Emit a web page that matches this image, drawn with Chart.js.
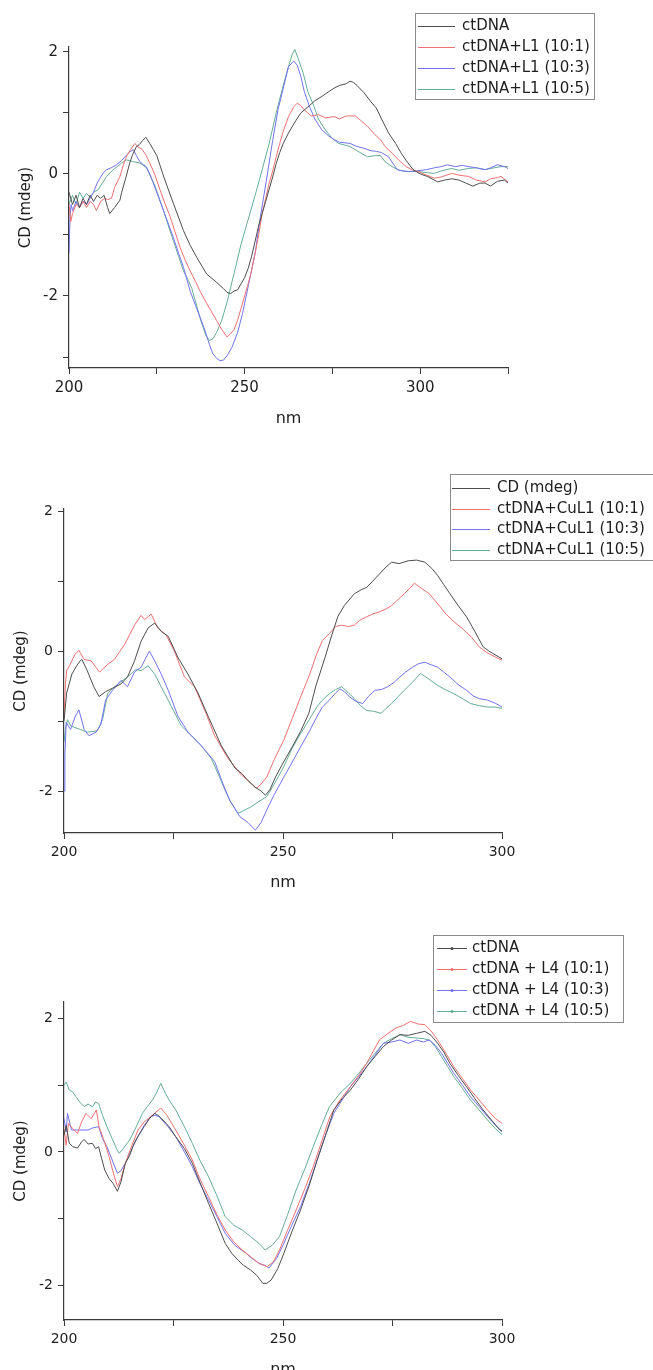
<!DOCTYPE html>
<html>
<head>
<meta charset="utf-8">
<script src="https://cdn.jsdelivr.net/npm/chart.js@4"></script>
<style>
html, body { margin: 0; padding: 0; background: #fff; }
body { width: 653px; height: 1370px; position: relative; overflow: hidden; }
canvas { position: absolute; left: 0; }
</style>
</head>
<body>
<canvas id="cdL1" width="653" height="432" style="top:0px"></canvas>
<canvas id="cdCuL1" width="653" height="462" style="top:440px"></canvas>
<canvas id="cdL4" width="653" height="480" style="top:910px"></canvas>
<script>
// -- Data: CD spectra, [nm, CD (mdeg)] --

// panel 1 : ctDNA + L1
const l1Labels = ['ctDNA', 'ctDNA+L1 (10:1)', 'ctDNA+L1 (10:3)', 'ctDNA+L1 (10:5)'];
const l1_ctDNA = [[200,-0.3],[201,-0.5],[202,-0.35],[203,-0.55],[204,-0.4],[205,-0.5],[206,-0.35],[207,-0.45],[208,-0.35],[209,-0.4],[210,-0.35],[211,-0.55],[211.6,-0.65],[213,-0.55],[214.5,-0.43],[215,-0.3],[216,-0.1],[217.3,0.18],[218,0.3],[219.2,0.45],[220,0.48],[221,0.55],[221.9,0.6],[223,0.5],[224,0.4],[225,0.3],[227,-0.05],[229.7,-0.48],[232.6,-0.93],[234.5,-1.17],[236.4,-1.37],[239.2,-1.64],[242.1,-1.78],[244,-1.88],[245,-1.94],[246,-1.96],[247,-1.92],[248,-1.9],[249,-1.8],[250,-1.7],[251,-1.55],[252,-1.35],[253,-1.1],[254,-0.85],[255,-0.65],[256,-0.45],[257,-0.25],[258,-0.05],[259,0.17],[260,0.35],[261,0.5],[262.5,0.67],[264,0.82],[266,1.0],[268.5,1.12],[270,1.2],[272,1.27],[274,1.35],[275.6,1.41],[277,1.45],[279,1.48],[280,1.52],[281,1.5],[282,1.45],[284,1.33],[286,1.18],[287.5,1.08],[289,0.9],[291,0.67],[293,0.5],[294.6,0.34],[296,0.22],[298,0.07],[300,0.0],[302,-0.04],[304,-0.1],[305,-0.13],[307,-0.1],[309,-0.08],[311,-0.1],[313,-0.15],[315,-0.2],[317,-0.15],[318.5,-0.15],[320,-0.2],[322,-0.12],[324,-0.1],[325,-0.15]];
const l1_r101 = [[200,-0.5],[200.5,-0.78],[201,-0.65],[202,-0.5],[203,-0.55],[204,-0.45],[205,-0.55],[206,-0.45],[207,-0.5],[207.8,-0.6],[209,-0.45],[210.2,-0.4],[211,-0.42],[212.1,-0.4],[213,-0.22],[214.5,-0.04],[215.5,0.15],[216.4,0.29],[217.5,0.4],[218.8,0.5],[219.7,0.44],[220.7,0.41],[222,0.3],[223,0.18],[224.5,-0.02],[225.9,-0.26],[227.3,-0.48],[228.8,-0.7],[230.2,-0.95],[231.6,-1.2],[233,-1.4],[234.5,-1.59],[236,-1.76],[237.3,-1.92],[239,-2.1],[241,-2.3],[242,-2.4],[243.5,-2.55],[245,-2.67],[246,-2.62],[247,-2.55],[248,-2.4],[249,-2.2],[250,-2.0],[251,-1.8],[251.8,-1.63],[253,-1.3],[254,-1.0],[255,-0.65],[256,-0.4],[257,-0.15],[258,0.05],[259,0.28],[260,0.5],[261,0.7],[262.5,0.94],[264,1.1],[265,1.16],[266,1.12],[267,1.05],[268,1.0],[269,0.95],[271,0.97],[273,0.92],[275.6,0.94],[277,0.9],[279,0.95],[281.5,0.95],[283,0.88],[285,0.78],[287,0.65],[288.7,0.56],[290,0.45],[292,0.34],[294,0.22],[296,0.12],[298,0.06],[299.4,0.04],[301,0.0],[304,-0.07],[306,-0.05],[309,0.01],[311,-0.02],[313.7,-0.04],[316,-0.1],[318.5,-0.13],[320,-0.08],[322,-0.06],[323,-0.04],[325,-0.13]];
const l1_r103 = [[200,-1.3],[200.3,-0.7],[200.6,-0.5],[201,-0.6],[202,-0.45],[203,-0.55],[204,-0.45],[205,-0.5],[206,-0.4],[207,-0.3],[208,-0.15],[208.8,-0.07],[209.8,0.02],[210.7,0.07],[212,0.1],[213.5,0.15],[215,0.22],[216.4,0.31],[217.3,0.36],[218.3,0.4],[219.2,0.3],[220.2,0.2],[221.2,0.15],[222,0.12],[223,0.0],[224,-0.15],[225.5,-0.38],[226.9,-0.6],[228.3,-0.82],[229.7,-1.04],[231.2,-1.3],[232.6,-1.53],[234.5,-1.92],[236,-2.15],[237,-2.3],[238.7,-2.56],[240,-2.8],[241,-2.95],[242,-3.02],[243,-3.06],[244,-3.05],[245,-2.98],[246.4,-2.84],[248,-2.6],[249.4,-2.29],[251,-1.85],[253,-1.3],[254.5,-0.7],[256.5,0],[258,0.55],[259.5,1.05],[261,1.4],[262.5,1.76],[264,1.85],[265,1.78],[266,1.6],[267,1.35],[268.5,1.1],[270,0.9],[272,0.72],[274,0.62],[275.6,0.56],[277,0.52],[280,0.5],[282,0.45],[284,0.42],[286,0.38],[287.5,0.37],[289,0.35],[291,0.28],[292.5,0.15],[293.5,0.07],[295,0.05],[297,0.04],[299,0.05],[301.8,0.07],[304,0.1],[306,0.12],[307.7,0.15],[310,0.12],[312,0.14],[313.7,0.12],[316,0.1],[318.5,0.07],[320,0.1],[322,0.15],[324,0.12],[325,0.09]];
const l1_r105 = [[200,-0.5],[201,-0.35],[202,-0.5],[203,-0.3],[204,-0.4],[205,-0.32],[206,-0.38],[207,-0.3],[208.3,-0.26],[209.5,-0.15],[210.7,-0.04],[212.6,0.07],[215,0.18],[216.4,0.23],[218.3,0.2],[220.2,0.18],[222.1,0.1],[223.3,-0.05],[224.5,-0.2],[225.7,-0.4],[226.9,-0.6],[228.3,-0.85],[229.7,-1.09],[231.2,-1.35],[232.6,-1.59],[234,-1.75],[235,-1.88],[237.5,-2.4],[239,-2.65],[240,-2.73],[241,-2.7],[242,-2.6],[243.5,-2.4],[245,-2.1],[247,-1.63],[249,-1.15],[251.8,-0.59],[253,-0.35],[255,0.07],[257,0.5],[259,1.0],[261,1.45],[262.5,1.76],[263.5,1.95],[264.3,2.04],[265.5,1.85],[266.7,1.65],[268,1.35],[269.8,1.1],[271,0.9],[273,0.72],[275,0.58],[276.8,0.5],[280,0.45],[282,0.38],[285,0.28],[287,0.3],[288.7,0.3],[290,0.2],[292,0.12],[294,0.06],[296,0.04],[299.4,0.04],[302,0.02],[304,0.01],[306,0.05],[309,0.09],[311,0.06],[313.7,0.09],[316,0.1],[318.5,0.07],[321,0.1],[323,0.12],[325,0.12]];

// panel 2 : ctDNA + CuL1
const cuLabels = ['CD (mdeg)', 'ctDNA+CuL1 (10:1)', 'ctDNA+CuL1 (10:3)', 'ctDNA+CuL1 (10:5)'];
const cu_ctDNA = [[200,-1.0],[200.6,-0.6],[201.8,-0.33],[203,-0.2],[203.7,-0.14],[204.1,-0.12],[205.3,-0.28],[206.8,-0.51],[208,-0.65],[209.5,-0.58],[211.1,-0.53],[213,-0.47],[214.5,-0.37],[216.1,-0.14],[217.6,0.14],[219.2,0.33],[220.7,0.4],[222.2,0.28],[223.8,0.21],[226,-0.09],[228.3,-0.33],[230.6,-0.6],[232.9,-0.93],[235.9,-1.35],[239,-1.67],[240.6,-1.75],[242,-1.85],[243.5,-1.94],[245,-2.0],[246,-2.06],[247,-1.98],[248.3,-1.8],[250,-1.6],[252.1,-1.37],[254,-1.15],[255.9,-0.89],[257.5,-0.5],[259.6,-0.09],[261,0.2],[262.5,0.49],[264,0.65],[266.3,0.82],[268,0.88],[269.1,0.91],[270.5,1.0],[272,1.1],[273.5,1.2],[274.8,1.27],[276.5,1.25],[278.6,1.29],[280.5,1.3],[282.4,1.27],[284,1.18],[285.3,1.08],[286.7,0.95],[288.1,0.82],[290,0.65],[291.9,0.49],[293.8,0.28],[295.7,0.06],[297,0.0],[298.6,-0.06],[300,-0.11]];
const cu_r101 = [[200,-0.95],[200.3,-0.5],[200.6,-0.28],[201.4,-0.19],[202.5,-0.05],[203.4,0.01],[204.6,-0.12],[206.2,-0.14],[208.1,-0.3],[210,-0.19],[211.5,-0.12],[213.8,0.09],[216.1,0.37],[217.6,0.51],[218.4,0.45],[219.2,0.49],[219.9,0.53],[221.4,0.33],[223.3,0.23],[225.2,0],[227.5,-0.37],[229.8,-0.51],[232.1,-0.84],[234.4,-1.21],[237.4,-1.53],[240.5,-1.77],[242.5,-1.88],[244,-1.96],[245,-1.9],[246.3,-1.8],[248,-1.55],[250.2,-1.27],[252,-0.98],[254,-0.66],[256,-0.35],[257.7,-0.04],[259,0.15],[260.6,0.25],[262,0.35],[263.4,0.37],[265,0.35],[266.3,0.37],[267.5,0.44],[269.1,0.49],[270.5,0.53],[272,0.56],[273.5,0.6],[274.8,0.65],[276,0.72],[277.7,0.82],[279,0.9],[280,0.97],[281.5,0.9],[283.4,0.82],[285,0.7],[287.2,0.53],[289,0.42],[291,0.32],[293,0.2],[294.8,0.06],[296.5,-0.02],[298.6,-0.09],[300,-0.13]];
const cu_r103 = [[200,-2.0],[200.2,-1.5],[200.5,-1.02],[201.5,-1.12],[202.6,-0.93],[203.4,-0.84],[204.6,-1.12],[205.7,-1.21],[207.3,-1.16],[208.4,-1.05],[209.5,-0.7],[211.1,-0.56],[213,-0.42],[214.5,-0.51],[216.1,-0.3],[217.6,-0.23],[219.5,0],[220.7,-0.14],[222.2,-0.33],[223.8,-0.56],[226,-0.93],[228.3,-1.16],[231.3,-1.35],[234.4,-1.58],[236,-1.85],[237.8,-2.13],[239,-2.25],[240.2,-2.37],[242,-2.45],[243.7,-2.56],[245,-2.45],[246.3,-2.27],[248,-2.05],[250.2,-1.8],[252,-1.6],[254,-1.37],[256,-1.15],[257.7,-0.94],[259,-0.8],[260.6,-0.7],[262,-0.6],[263,-0.54],[264,-0.58],[265.3,-0.66],[266.7,-0.72],[268.2,-0.75],[269.5,-0.65],[271,-0.56],[272.5,-0.55],[273.9,-0.51],[275.3,-0.45],[276.7,-0.37],[278,-0.3],[279.6,-0.23],[281,-0.18],[282.4,-0.16],[284,-0.2],[285.3,-0.23],[286.7,-0.3],[288.1,-0.37],[290,-0.48],[291.9,-0.56],[293.4,-0.64],[294.8,-0.68],[296.7,-0.7],[298.6,-0.75],[300,-0.8]];
const cu_r105 = [[200,-1.3],[200.3,-1.12],[200.8,-0.98],[201.5,-1.07],[203.7,-1.12],[205.3,-1.16],[207.6,-1.14],[208.8,-0.98],[210,-0.6],[212.3,-0.47],[214.5,-0.37],[216.5,-0.26],[217.6,-0.28],[219.2,-0.21],[220.7,-0.33],[222.2,-0.51],[224.5,-0.79],[226.8,-1.07],[229.1,-1.21],[231.3,-1.35],[233.6,-1.53],[235.5,-1.8],[236.8,-1.99],[238,-2.15],[239.7,-2.32],[241,-2.28],[242.6,-2.23],[244.5,-2.15],[246.3,-2.08],[248,-1.9],[250.2,-1.65],[252,-1.4],[254,-1.18],[256,-0.98],[257.7,-0.8],[259,-0.7],[260.6,-0.61],[262,-0.55],[263.4,-0.51],[265,-0.6],[266.3,-0.68],[267.7,-0.78],[269.1,-0.85],[270.7,-0.86],[272.4,-0.89],[273.5,-0.82],[274.8,-0.75],[276.3,-0.65],[277.7,-0.56],[279.5,-0.45],[281.4,-0.32],[283.3,-0.4],[285.3,-0.49],[287,-0.55],[289,-0.61],[291,-0.68],[292.8,-0.75],[294.8,-0.78],[296.7,-0.8],[298.5,-0.8],[300,-0.82]];

// panel 3 : ctDNA + L4
const l4Labels = ['ctDNA', 'ctDNA + L4 (10:1)', 'ctDNA + L4 (10:3)', 'ctDNA + L4 (10:5)'];
const l4_ctDNA = [[200,0.25],[200.5,0.4],[201.2,0.13],[202,0.08],[203.1,0.06],[204,0.15],[204.6,0.19],[205.5,0.12],[206.5,0.13],[207.2,0.05],[207.9,0.08],[208.6,-0.1],[209.3,-0.27],[210.3,-0.4],[211.2,-0.47],[212.2,-0.59],[213,-0.45],[214,-0.17],[215,-0.05],[216,0.13],[217,0.25],[218.3,0.38],[219.5,0.5],[220.7,0.58],[221.5,0.55],[222.6,0.48],[224,0.38],[225.5,0.23],[227.5,0.05],[229.3,-0.17],[231,-0.45],[233,-0.77],[235,-1.08],[236.8,-1.37],[238.3,-1.52],[239.7,-1.62],[241,-1.7],[242.6,-1.77],[244,-1.85],[245.4,-1.97],[246.3,-1.97],[247.3,-1.92],[248.8,-1.75],[250.2,-1.52],[252,-1.2],[254,-0.87],[256,-0.5],[257.8,-0.12],[259.7,0.25],[261.6,0.63],[263.5,0.8],[265.4,0.93],[267.3,1.1],[269.1,1.28],[271,1.43],[272.9,1.58],[274.8,1.68],[276.7,1.76],[278.6,1.75],[280.5,1.78],[282.4,1.81],[283.8,1.75],[285.3,1.63],[286.7,1.5],[288.1,1.33],[290,1.15],[291.9,0.98],[293.8,0.8],[295.7,0.63],[297.6,0.48],[299.5,0.33],[300,0.31]];
const l4_r101 = [[200,0.35],[200.5,0.1],[201,0.43],[202,0.35],[203.1,0.28],[204,0.45],[205,0.58],[206.2,0.5],[207.4,0.63],[208,0.38],[209,0.2],[210.3,-0.07],[211.2,-0.3],[212.2,-0.52],[213,-0.4],[214,-0.17],[215.5,0.1],[216.9,0.33],[218.3,0.45],[219.8,0.53],[221,0.6],[222.1,0.66],[223.5,0.55],[225.5,0.33],[227.5,0.1],[229.3,-0.12],[231,-0.4],[233,-0.67],[235,-0.95],[236.8,-1.17],[238.8,-1.35],[240.7,-1.47],[242.6,-1.57],[244.5,-1.67],[246.4,-1.72],[247.8,-1.65],[249.2,-1.47],[251,-1.18],[253,-0.87],[255,-0.55],[256.9,-0.22],[258.8,0.15],[260.7,0.53],[263,0.78],[265.4,0.98],[267.3,1.15],[269.1,1.33],[270.5,1.5],[272,1.68],[274,1.78],[275.8,1.86],[277.5,1.9],[279.1,1.96],[280.8,1.92],[282.4,1.91],[284,1.8],[285.3,1.68],[287.2,1.48],[289,1.28],[291,1.1],[292.8,0.93],[294.8,0.78],[296.7,0.63],[298.5,0.5],[300,0.43]];
const l4_r103 = [[200,0.5],[200.5,0.3],[200.8,0.58],[201.7,0.33],[203.6,0.33],[205.5,0.33],[206.5,0.36],[207.9,0.38],[208.8,0.2],[209.8,0.08],[211,-0.12],[212.2,-0.32],[213,-0.28],[214,-0.17],[215.5,0.05],[216.9,0.23],[218.3,0.4],[219.8,0.53],[220.8,0.55],[221.7,0.53],[223.5,0.4],[225.5,0.23],[227.5,0.0],[229.3,-0.22],[231,-0.47],[233,-0.72],[235,-0.98],[236.8,-1.22],[239,-1.4],[241.6,-1.52],[243,-1.6],[244.5,-1.67],[245.8,-1.7],[246.8,-1.74],[248.5,-1.6],[250.2,-1.37],[252,-1.1],[254,-0.82],[256,-0.47],[257.8,-0.12],[259.7,0.25],[261.6,0.58],[263.5,0.78],[265.4,0.98],[267.3,1.13],[269.1,1.28],[271,1.45],[272.9,1.63],[274.8,1.65],[276.7,1.68],[278.6,1.63],[280.5,1.68],[282,1.65],[283.4,1.68],[284.8,1.6],[286.2,1.48],[287.6,1.33],[289,1.18],[291,1.0],[292.8,0.83],[294.8,0.68],[296.7,0.53],[298.5,0.4],[300,0.31]];
const l4_r105 = [[200,1.0],[200.5,1.05],[201.2,0.93],[202,0.9],[202.7,0.83],[203.6,0.75],[204.6,0.68],[205.5,0.72],[206.5,0.68],[207.2,0.75],[207.9,0.73],[208.8,0.55],[209.8,0.38],[211,0.2],[212,0.05],[212.6,-0.02],[213.5,0.05],[215,0.18],[216.5,0.38],[217.9,0.58],[219,0.68],[220.2,0.78],[221.2,0.9],[222.1,1.03],[223,0.9],[224,0.78],[225.5,0.63],[227.5,0.38],[229.3,0.13],[231,-0.12],[233,-0.37],[235,-0.67],[236.8,-0.97],[238.8,-1.1],[240.7,-1.17],[242.6,-1.27],[244.5,-1.37],[245.9,-1.47],[247.5,-1.4],[249.2,-1.27],[251,-0.95],[253,-0.57],[255,-0.25],[256.9,0.08],[258.8,0.4],[260.6,0.68],[263,0.88],[265.4,1.03],[267.3,1.18],[269.1,1.33],[271,1.48],[272.9,1.63],[274.8,1.7],[276.7,1.76],[278.6,1.72],[280.5,1.71],[282,1.7],[283.4,1.68],[284.8,1.58],[286.2,1.43],[287.6,1.28],[289,1.13],[291,0.95],[292.8,0.78],[294.8,0.63],[296.7,0.48],[298.5,0.35],[300,0.26]];

const seriesColors = ['#4d4d4d', '#f07070', '#7272ee', '#63ad98'];
const FONT = "'DejaVu Sans', 'Liberation Sans', sans-serif";

// -- legend drawn as a framed box, Origin style --
const boxLegend = {
    id: 'boxLegend',
    afterDraw(chart, args, o) {
        const ctx = chart.ctx;
        ctx.save();
        ctx.lineWidth = 1;
        ctx.strokeStyle = '#8a8a8a';
        ctx.strokeRect(o.x + 0.5, o.y + 0.5, o.w, o.h);
        ctx.font = '15px ' + FONT;
        ctx.textBaseline = 'middle';
        chart.data.datasets.forEach((ds, i) => {
            const yy = Math.round(o.y + o.first + i * o.gap) + 0.5;
            ctx.strokeStyle = ds.borderColor;
            ctx.beginPath();
            ctx.moveTo(o.x0, yy);
            ctx.lineTo(o.x1, yy);
            ctx.stroke();
            if (o.dot) {
                ctx.fillStyle = ds.borderColor;
                ctx.beginPath();
                ctx.arc((o.x0 + o.x1) / 2, yy, 1.6, 0, 2 * Math.PI);
                ctx.fill();
            }
            ctx.fillStyle = '#1e1e1e';
            ctx.fillText(ds.label, o.tx, yy);
        });
        ctx.restore();
    }
};

function makeCD(id, labels, series, p) {
    const ctx = document.getElementById(id).getContext('2d');
    return new Chart(ctx, {
        type: 'line',
        data: {
            datasets: series.map((s, i) => ({
                label: labels[i],
                data: s.map(([x, y]) => ({ x, y })),
                borderColor: seriesColors[i],
                borderWidth: 1,
                pointRadius: 0,
                tension: 0,
                fill: false
            }))
        },
        options: {
            responsive: false,
            animation: false,
            layout: { padding: { left: 0, top: p.top, right: p.right, bottom: 0 } },
            scales: {
                x: {
                    type: 'linear',
                    min: 200, max: p.xMax,
                    afterFit: (s) => { s.height = p.xH; },
                    border: { display: true, color: '#3a3a3a', width: 1.2 },
                    grid: { drawOnChartArea: false, drawTicks: true, tickLength: 6, color: '#3a3a3a' },
                    ticks: {
                        stepSize: 25, autoSkip: false, maxRotation: 0, padding: 5,
                        color: '#1e1e1e', font: { family: FONT, size: p.tickSize },
                        callback: (v) => (v % 50 === 0 ? String(v) : '')
                    },
                    title: { display: true, text: 'nm', color: '#1e1e1e', font: { family: FONT, size: 16 }, padding: { top: 0, bottom: p.nmPad } }
                },
                y: {
                    min: p.yMin, max: p.yMax,
                    afterFit: (s) => { s.width = p.left; },
                    border: { display: true, color: '#3a3a3a', width: 1.2 },
                    grid: { drawOnChartArea: false, drawTicks: true, tickLength: 6, color: '#3a3a3a' },
                    ticks: {
                        stepSize: 1, includeBounds: false, padding: 5,
                        color: '#1e1e1e', font: { family: FONT, size: p.tickSize },
                        callback: (v) => (Math.round(v) % 2 === 0 ? String(Math.round(v)) : '')
                    },
                    title: { display: true, text: 'CD (mdeg)', color: '#1e1e1e', font: { family: FONT, size: 15 }, padding: { top: p.cdPad, bottom: 0 } }
                }
            },
            plugins: {
                legend: { display: false },
                tooltip: { enabled: false },
                boxLegend: p.legend
            }
        },
        plugins: [boxLegend]
    });
}

makeCD('cdL1', l1Labels, [l1_ctDNA, l1_r101, l1_r103, l1_r105], {
    top: 47, right: 145, left: 69, xH: 64, xMax: 325, yMin: -3.18, yMax: 2.08,
    tickSize: 15, nmPad: 4, cdPad: 17,
    legend: { x: 415, y: 13, w: 179, h: 86, x0: 418, x1: 455, tx: 462, first: 13, gap: 21 }
});

makeCD('cdCuL1', cuLabels, [cu_ctDNA, cu_r101, cu_r103, cu_r105], {
    top: 69, right: 151, left: 64, xH: 69, xMax: 300, yMin: -2.6, yMax: 2.03,
    tickSize: 14, nmPad: 10, cdPad: 12,
    legend: { x: 450, y: 34, w: 220, h: 86, x0: 452, x1: 490, tx: 497, first: 14, gap: 20.5 }
});

makeCD('cdL4', l4Labels, [l4_ctDNA, l4_r101, l4_r103, l4_r105], {
    top: 92, right: 151, left: 64, xH: 70, xMax: 300, yMin: -2.52, yMax: 2.25,
    tickSize: 14, nmPad: 11, cdPad: 12,
    legend: { x: 433, y: 25, w: 190, h: 87, x0: 437, x1: 467, tx: 472, first: 13, gap: 21, dot: true }
});
</script>
</body>
</html>
